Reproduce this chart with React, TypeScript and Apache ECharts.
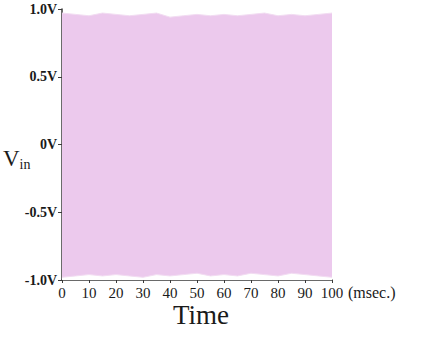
import React, { useEffect, useRef } from "react";
import * as echarts from "echarts";

// time in msec
const timeMs = [0, 5, 10, 15, 20, 25, 30, 35, 40, 45, 50, 55, 60, 65, 70, 75, 80, 85, 90, 95, 100];
// upper / lower envelope of the dense oscillating input voltage (V)
const upperEnv = [0.97, 0.96, 0.95, 0.97, 0.96, 0.95, 0.96, 0.97, 0.94, 0.95, 0.96, 0.95, 0.96, 0.95, 0.96, 0.97, 0.95, 0.96, 0.95, 0.96, 0.97];
const lowerEnv = [-0.98, -0.97, -0.96, -0.97, -0.96, -0.97, -0.98, -0.96, -0.97, -0.96, -0.95, -0.97, -0.96, -0.97, -0.95, -0.96, -0.97, -0.95, -0.96, -0.97, -0.98];
const yTicks = [-1.0, -0.5, 0, 0.5, 1.0];

export default function App() {
  const ref = useRef<HTMLDivElement>(null);
  useEffect(() => {
    if (!ref.current) return;
    const chart = echarts.init(ref.current, null, { renderer: "svg" });
    const serif = "'Liberation Serif', 'DejaVu Serif', serif";
    const upperData = timeMs.map((t, i) => [t, upperEnv[i]]);
    const lowerData = timeMs.map((t, i) => [t, lowerEnv[i]]);
    chart.setOption({
      animation: false,
      backgroundColor: "#ffffff",
      grid: { left: 62, right: 91, top: 9, bottom: 58, containLabel: false },
      xAxis: {
        type: "value",
        min: 0,
        max: 100,
        interval: 10,
        axisLine: { show: true, onZero: false, lineStyle: { color: "#3a3a3a", width: 1.5 } },
        axisTick: { show: true, length: 3, lineStyle: { color: "#3a3a3a" } },
        axisLabel: { color: "#1a1a1a", fontFamily: serif, fontSize: 15, margin: 5 },
        splitLine: { show: false },
      },
      yAxis: {
        type: "value",
        min: yTicks[0],
        max: yTicks[yTicks.length - 1],
        interval: 0.5,
        axisLine: { show: true, onZero: false, lineStyle: { color: "#3a3a3a", width: 1.5 } },
        axisTick: { show: true, length: 4, lineStyle: { color: "#3a3a3a" } },
        axisLabel: {
          color: "#1a1a1a",
          fontFamily: serif,
          fontSize: 14,
          fontWeight: "bold",
          margin: 5,
          formatter: (v: number) => (v === 0 ? "0V" : v.toFixed(1) + "V"),
        },
        splitLine: { show: false },
      },
      series: [
        {
          type: "line",
          data: upperData,
          symbol: "none",
          lineStyle: { width: 1, color: "#f2dcf2" },
          areaStyle: { color: "#ecc9ed", opacity: 1, origin: "start" },
          silent: true,
          z: 1,
        },
        {
          type: "line",
          data: lowerData,
          symbol: "none",
          lineStyle: { width: 1, color: "#f2dcf2" },
          areaStyle: { color: "#ffffff", opacity: 1, origin: "start" },
          silent: true,
          z: 2,
        },
      ],
      graphic: [
        {
          type: "text",
          left: 3,
          top: 147,
          style: {
            text: "{v|V}{s|in}",
            rich: {
              v: { fontFamily: serif, fontSize: 23, fill: "#1a1a1a" },
              s: { fontFamily: serif, fontSize: 14, fill: "#1a1a1a", padding: [12, 0, 0, 0] },
            },
          },
        },
        {
          type: "text",
          left: 348,
          top: 284,
          style: { text: "(msec.)", fontFamily: serif, fontSize: 16, fill: "#1a1a1a" },
        },
        {
          type: "text",
          left: 173,
          top: 301,
          style: { text: "Time", fontFamily: serif, fontSize: 27, fill: "#1a1a1a" },
        },
      ],
    });
    return () => chart.dispose();
  }, []);
  return <div ref={ref} style={{ position: "fixed", left: 0, top: 0, width: 423, height: 338 }} />;
}
